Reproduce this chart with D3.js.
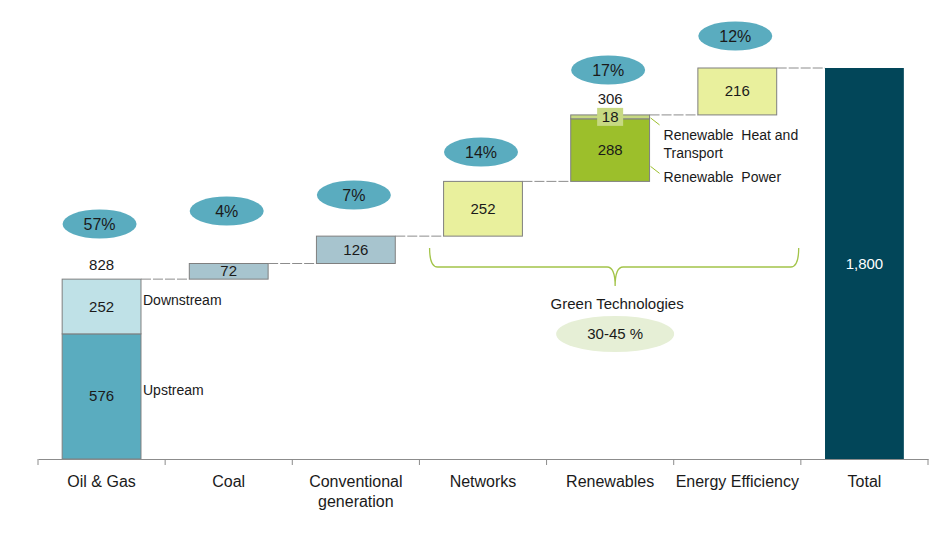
<!DOCTYPE html>
<html>
<head>
<meta charset="utf-8">
<script src="https://cdn.jsdelivr.net/npm/d3@7"></script>
<style>
  body { margin: 0; background: #fff; }
  svg { font-family: 'Liberation Sans', Arial, sans-serif; }
</style>
</head>
<body>
<svg width="945" height="533"></svg>
<script>
// categories along the axis
const categories = ['Oil & Gas', 'Coal', 'Conventional generation', 'Networks', 'Renewables', 'Energy Efficiency', 'Total'];
// main (lower) segment of each step and the stacked upper segment
const lowerValues = [576, 72, 126, 252, 288, 216];
const upperValues = [252, 0, 0, 0, 18, 0];
const lowerNames = ['Upstream', '', '', '', 'Renewable\u00a0\u00a0Power', ''];
const upperNames = ['Downstream', '', '', '', 'Renewable\u00a0\u00a0Heat and|Transport', ''];
const shares = ['57%', '4%', '7%', '14%', '17%', '12%'];

// colours
const lowerColors = ['#5aacbf', '#a7c4ce', '#a7c4ce', '#e9f09d', '#9cbf2b', '#e9f09d'];
const upperColors = ['#bfe1e7', null, null, null, '#c7d982', null];
const TOTAL_COLOR = '#024659';
const BUBBLE_COLOR = '#5aacbf';

// bubble heights (px) over each step
const BUBBLE_Y = [224, 211, 195, 152, 70, 36];

const BASE = 459;
const svg = d3.select('svg');

const x = d3.scaleBand()
    .domain(categories)
    .range([38, 928])
    .paddingInner(0.38)
    .paddingOuter(0.19);
const y = d3.scaleLinear()
    .domain([0, 1800])
    .range([BASE, BASE - 391]);

// build the waterfall steps
let running = 0;
const steps = lowerValues.map((v, i) => {
    const s = { cat: categories[i], start: running, lower: v, upper: upperValues[i], i: i };
    running += v + upperValues[i];
    s.end = running;
    return s;
});
const total = running;

// connectors
const connectors = steps.map((s, i) => ({ level: s.end, from: s.cat, to: categories[i + 1] }));
svg.selectAll('.conn')
    .data(connectors)
    .join('line')
    .attr('x1', d => x(d.from) + x.bandwidth())
    .attr('x2', d => x(d.to))
    .attr('y1', d => y(d.level))
    .attr('y2', d => y(d.level))
    .attr('stroke', '#8c8c8c')
    .attr('stroke-width', 1)
    .attr('stroke-dasharray', '10,2');

// lower segments
svg.selectAll('.lower')
    .data(steps)
    .join('rect')
    .attr('x', d => x(d.cat))
    .attr('width', x.bandwidth())
    .attr('y', d => y(d.start + d.lower))
    .attr('height', d => y(d.start) - y(d.start + d.lower))
    .attr('fill', d => lowerColors[d.i])
    .attr('stroke', '#7f7f7f')
    .attr('stroke-width', 1);

// upper segments
svg.selectAll('.upper')
    .data(steps.filter(d => d.upper > 0))
    .join('rect')
    .attr('x', d => x(d.cat))
    .attr('width', x.bandwidth())
    .attr('y', d => y(d.end))
    .attr('height', d => y(d.start + d.lower) - y(d.end))
    .attr('fill', d => upperColors[d.i])
    .attr('stroke', '#7f7f7f')
    .attr('stroke-width', 1);

// total bar
svg.append('rect')
    .attr('x', x('Total'))
    .attr('width', x.bandwidth())
    .attr('y', y(total))
    .attr('height', BASE - y(total))
    .attr('fill', TOTAL_COLOR);

const cx = c => x(c) + x.bandwidth() / 2;

// value labels inside bars
steps.forEach(s => {
    const small = s.upper > 0 && (y(s.start + s.lower) - y(s.end)) < 14;
    svg.append('text')
        .attr('x', cx(s.cat))
        .attr('y', (y(s.start) + y(s.start + s.lower)) / 2 + 5)
        .attr('text-anchor', 'middle')
        .attr('font-size', 15)
        .attr('fill', '#1a1a1a')
        .text(s.lower);
    if (s.upper > 0) {
        let ly = (y(s.start + s.lower) + y(s.end)) / 2 + 5;
        if (small) {
            // label with its own tag over the thin segment
            svg.append('rect')
                .attr('x', cx(s.cat) - 13)
                .attr('y', ly - 14)
                .attr('width', 26)
                .attr('height', 18)
                .attr('fill', upperColors[s.i]);
        }
        svg.append('text')
            .attr('x', cx(s.cat))
            .attr('y', ly)
            .attr('text-anchor', 'middle')
            .attr('font-size', 15)
            .attr('fill', '#1a1a1a')
            .text(s.upper);
        // sum above the stacked bar
        svg.append('text')
            .attr('x', cx(s.cat))
            .attr('y', y(s.end) - (small ? 11 : 9))
            .attr('text-anchor', 'middle')
            .attr('font-size', 15)
            .attr('fill', '#1a1a1a')
            .text(s.lower + s.upper);
    }
});
svg.append('text')
    .attr('x', cx('Total'))
    .attr('y', y(total / 2) + 5)
    .attr('text-anchor', 'middle')
    .attr('font-size', 15)
    .attr('fill', '#fff')
    .text(d3.format(',')(total));

// segment names
steps.forEach(s => {
    if (s.upper === 0) return;
    const rx = x(s.cat) + x.bandwidth() + 2;
    const thin = (y(s.start + s.lower) - y(s.end)) < 14;
    if (!thin) {
        svg.append('text').attr('x', rx).attr('y', (y(s.start + s.lower) + y(s.end)) / 2 - 2)
            .attr('font-size', 14).attr('fill', '#1a1a1a').text(upperNames[s.i]);
        svg.append('text').attr('x', rx).attr('y', y(s.start + s.lower / 2) - 1)
            .attr('font-size', 14).attr('fill', '#1a1a1a').text(lowerNames[s.i]);
    } else {
        const ux = rx + 12;
        const uy = y(s.end) + 3;
        svg.append('line').attr('x1', rx - 1).attr('y1', uy).attr('x2', rx + 8).attr('y2', uy + 7)
            .attr('stroke', '#9cbf2b').attr('stroke-width', 1);
        upperNames[s.i].split('|').forEach((t, k) => {
            svg.append('text').attr('x', ux).attr('y', uy + 22 + k * 18)
                .attr('font-size', 14).attr('fill', '#1a1a1a').text(t);
        });
        const ly = y(s.start) - 15;
        svg.append('line').attr('x1', rx - 1).attr('y1', ly).attr('x2', rx + 8).attr('y2', ly + 7)
            .attr('stroke', '#9cbf2b').attr('stroke-width', 1);
        svg.append('text').attr('x', ux).attr('y', ly + 16)
            .attr('font-size', 14).attr('fill', '#1a1a1a').text(lowerNames[s.i]);
    }
});

// share bubbles
const bubbles = svg.selectAll('.bubble')
    .data(shares)
    .join('g')
    .attr('transform', (d, i) => `translate(${cx(categories[i]) - 2},${BUBBLE_Y[i]})`);
bubbles.append('ellipse')
    .attr('rx', 37).attr('ry', 14.5)
    .attr('fill', BUBBLE_COLOR);
bubbles.append('text')
    .attr('text-anchor', 'middle')
    .attr('y', 6)
    .attr('font-size', 16)
    .attr('fill', '#1a1a1a')
    .text(d => d);

// green technologies brace
const bx0 = x('Networks') - 14, bx1 = x('Energy Efficiency') + x.bandwidth() + 22;
const bmid = (bx0 + bx1) / 2 + 1;
const by0 = 248, by1 = 267, by2 = 286;
svg.append('path')
    .attr('d', `M${bx0},${by0} Q${bx0},${by1} ${bx0 + 8},${by1} L${bmid - 8},${by1} Q${bmid},${by1} ${bmid},${by2}`
        + ` Q${bmid},${by1} ${bmid + 8},${by1} L${bx1 - 8},${by1} Q${bx1},${by1} ${bx1},${by0}`)
    .attr('fill', 'none')
    .attr('stroke', '#a3c449')
    .attr('stroke-width', 1.3);
svg.append('text')
    .attr('x', bmid + 2).attr('y', 309)
    .attr('text-anchor', 'middle')
    .attr('font-size', 15)
    .attr('fill', '#1a1a1a')
    .text('Green Technologies');
svg.append('ellipse')
    .attr('cx', bmid).attr('cy', 334)
    .attr('rx', 59).attr('ry', 18)
    .attr('fill', '#e6efd6');
svg.append('text')
    .attr('x', bmid).attr('y', 339)
    .attr('text-anchor', 'middle')
    .attr('font-size', 15)
    .attr('fill', '#1a1a1a')
    .text('30-45 %');

// axis
const axis = svg.append('g')
    .attr('transform', `translate(0,${BASE})`)
    .call(d3.axisBottom(x).tickSize(0).tickPadding(18));
axis.select('.domain').attr('stroke', '#8c8c8c');
axis.selectAll('.tick text')
    .attr('font-size', 16)
    .attr('font-family', "'Liberation Sans', Arial, sans-serif")
    .attr('fill', '#1a1a1a')
    .each(function (d) {
        const el = d3.select(this);
        const words = d === 'Conventional generation' ? ['Conventional', 'generation'] : [d];
        el.text(null);
        words.forEach((w, k) => el.append('tspan').attr('x', 0).attr('dy', k ? '1.2em' : '0.65em').text(w));
    });
// tick marks at band boundaries
const bounds = categories.map(c => x(c) - x.step() * x.paddingInner() / 2).concat([928]);
axis.selectAll('.bound')
    .data(bounds)
    .join('line')
    .attr('x1', d => d).attr('x2', d => d)
    .attr('y1', 0).attr('y2', 6)
    .attr('stroke', '#8c8c8c');
</script>
</body>
</html>
